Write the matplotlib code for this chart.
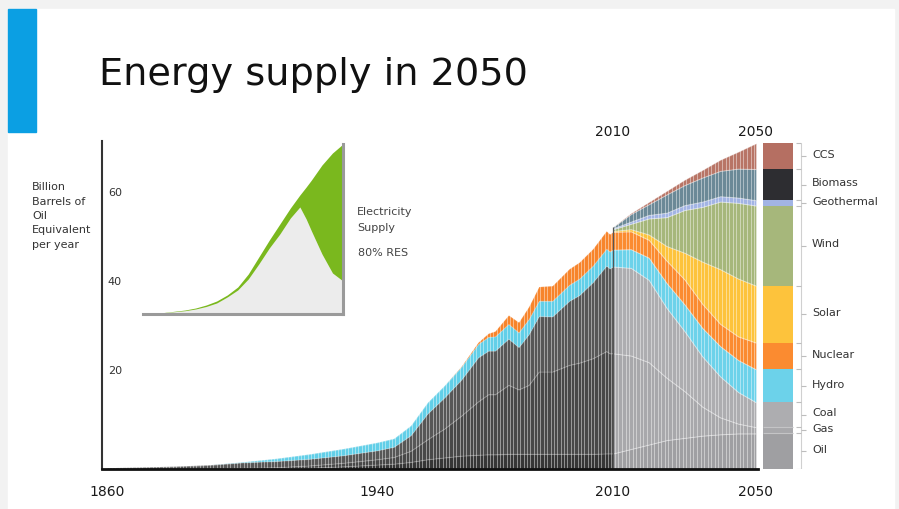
import numpy as np
import matplotlib
matplotlib.use("Agg")
import matplotlib.pyplot as plt
import matplotlib.patches as mpatches
from matplotlib.transforms import offset_copy

plt.rcParams["font.family"] = "DejaVu Sans"

#%% data (billion barrels of oil equivalent per year)
# history 1860-2010
years_hist = [1860, 1870, 1880, 1890, 1900, 1910, 1920, 1930, 1940, 1945, 1950, 1955, 1960, 1965,
              1970, 1973, 1975, 1979, 1982, 1985, 1988, 1992, 1997, 2000, 2004, 2008, 2009, 2010]
oil_hist = [0, 0, 0, 0, 0.05, 0.1, 0.3, 0.6, 1.0, 1.2, 1.6, 2.2, 2.6, 3.0,
            3.2, 3.3, 3.3, 3.4, 3.4, 3.4, 3.4, 3.4, 3.4, 3.4, 3.4, 3.5, 3.5, 3.5]
gas_hist = [0, 0, 0, 0.05, 0.2, 0.3, 0.5, 0.8, 1.2, 1.5, 2.5, 4.5, 6.5, 9.0,
            12.0, 13.5, 13.5, 15.5, 14.5, 15.5, 18.5, 18.5, 20.0, 20.5, 21.5, 23.0, 22.5, 22.5]
coal_hist = [0.3, 0.45, 0.65, 0.9, 1.25, 1.4, 1.5, 1.7, 2.0, 2.3, 3.5, 5.8, 7.0, 8.1,
             9.9, 9.8, 9.8, 10.4, 9.5, 11.4, 12.5, 12.4, 14.4, 15.2, 17.1, 19.2, 19.1, 19.5]
hydro_hist = [0, 0, 0, 0, 0.1, 0.6, 1.1, 1.5, 1.8, 1.9, 2.2, 2.5, 2.7, 2.9,
              3.0, 3.1, 3.2, 3.3, 3.3, 3.4, 3.4, 3.5, 3.6, 3.7, 3.7, 3.8, 3.8, 3.8]
nuclear_hist = [0, 0, 0, 0, 0, 0, 0, 0, 0, 0, 0, 0, 0, 0.1,
                0.4, 0.8, 1.2, 2.0, 2.3, 2.8, 3.2, 3.4, 3.6, 3.7, 3.8, 4.0, 3.9, 4.0]

# scenario 2010-2050
years_future = [2010, 2015, 2020, 2025, 2030, 2035, 2040, 2045, 2050]
oil_future = [3.5, 4.5, 5.5, 6.5, 7.0, 7.5, 7.8, 8.0, 8.0]
gas_future = [22.5, 21.0, 18.5, 14.0, 10.5, 6.5, 3.8, 2.2, 1.4]
coal_future = [19.5, 19.7, 18.5, 15.7, 13.5, 11.3, 9.2, 7.1, 5.6]
hydro_future = [3.8, 4.2, 5.0, 5.6, 6.0, 6.4, 6.8, 7.2, 7.4]
nuclear_future = [4.0, 4.0, 4.0, 5.0, 5.6, 5.4, 5.0, 5.3, 6.0]
solar_future = [0.2, 0.5, 1.2, 3.3, 6.0, 9.5, 12.3, 13.0, 12.8]
wind_future = [0.4, 1.2, 3.6, 6.5, 9.6, 12.3, 15.2, 17.0, 18.0]
geothermal_future = [0.2, 0.5, 0.8, 1.0, 1.1, 1.2, 1.2, 1.2, 1.2]
biomass_future = [0.3, 1.7, 2.4, 4.1, 4.5, 5.4, 5.7, 6.5, 7.0]
ccs_future = [0.0, 0.2, 0.5, 0.8, 1.2, 1.7, 2.5, 3.8, 5.8]

sources = ["Oil", "Gas", "Coal", "Hydro", "Nuclear", "Solar", "Wind", "Geothermal", "Biomass", "CCS"]

# electricity inset (relative units)
elec_years = [1860, 1880, 1900, 1910, 1920, 1930, 1940, 1950, 1960, 1970, 1980, 1990,
              2000, 2009, 2015, 2020, 2030, 2040, 2050]
elec_total = [0.5, 1.5, 4, 6, 9, 13, 19, 27, 40, 57, 74, 90, 106, 119, 127, 134, 149, 161, 170]
elec_conventional = [0.5, 1.3, 3.3, 5, 7.5, 11, 17, 24, 35, 50, 66, 80, 96, 107, 95, 83, 60, 41, 33]

#%% colours
col_hist = ["#363636", "#484848", "#575757", "#62cfe8", "#f7842b"]
col_future = ["#9f9fa2", "#a8a8ab", "#adadb0", "#6cd2ea", "#fb8b30", "#fdc33c",
              "#a6b77b", "#a2b4e4", "#6b8997", "#b87566"]
col_bar = col_future[:8] + ["#2d2d31", "#b56f62"]

#%% figure
W, H = 899, 510
fig = plt.figure(figsize=(W / 100, H / 100), dpi=100, facecolor="#f2f2f2")
fig.patches.append(mpatches.Rectangle((8 / W, 0), 886 / W, 500 / H, transform=fig.transFigure,
                                      color="white", zorder=-2))
fig.patches.append(mpatches.Rectangle((8 / W, 1 - 133 / H), 28 / W, 123 / H, transform=fig.transFigure,
                                      color="#0b9fe3", zorder=-1))
fig.text(99 / W, 1 - 75 / H, "Energy supply in 2050", fontsize=27.5, color="#111111", va="center")

# main axes, future part slightly stretched
k = 3.575 / 3.373
def fwd(x):
    x = np.asarray(x, dtype=float)
    return np.where(x <= 2010, x, 2010 + (x - 2010) * k)
def inv(x):
    x = np.asarray(x, dtype=float)
    return np.where(x <= 2010, x, 2010 + (x - 2010) / k)

ax = fig.add_axes([102 / W, 40 / H, 656 / W, 328 / H])
ax.set_facecolor("none")
ax.set_xscale("function", functions=(fwd, inv))
ax.set_xlim(1858.5, 2050.56)
ax.set_ylim(0, 73.7)

hist_layers = [oil_hist, gas_hist, coal_hist, hydro_hist, nuclear_hist]
fut_layers = [oil_future, gas_future, coal_future, hydro_future, nuclear_future, solar_future,
              wind_future, geothermal_future, biomass_future, ccs_future]
ax.stackplot(years_hist, *hist_layers, colors=col_hist, edgecolor=(1, 1, 1, 0.12), linewidth=1.0, zorder=2)
ax.stackplot(years_future, *fut_layers, colors=col_future, edgecolor=(1, 1, 1, 0.3), linewidth=0.8, zorder=2)

# bar texture
ax.vlines(np.arange(1860.5, 2050, 1.0), 0, 74, colors="white", lw=0.7, alpha=0.45, zorder=3)
ax.vlines(2010, 0, sum(l[0] for l in fut_layers), colors="#555555", lw=0.9, zorder=4)

for s in ["top", "right"]:
    ax.spines[s].set_visible(False)
ax.spines["bottom"].set_color("#111111")
ax.spines["bottom"].set_linewidth(2)
ax.spines["bottom"].set_zorder(5)
ax.spines["left"].set_color("#333333")
ax.spines["left"].set_linewidth(1.5)

ax.set_xticks([1860, 1940, 2010, 2050])
ax.set_xticklabels(["1860", "1940", "2010", "2050"])
ax.xaxis.set_minor_locator(matplotlib.ticker.NullLocator())
ax.tick_params(axis="x", length=0, pad=11, labelsize=10, labelcolor="#1a1a1a")
ax.set_yticks([])
for yr in [2010, 2050]:
    ax.text(yr, 1.03, str(yr), transform=ax.get_xaxis_transform(), ha="center", va="center",
            fontsize=10, color="#1a1a1a")

tr = offset_copy(ax.get_yaxis_transform(), fig=fig, x=0, y=10, units="dots")
for v in [20, 40, 60]:
    ax.text(0.009, v, str(v), transform=tr, ha="left", va="center", fontsize=8, color="#333333")

fig.text(32 / W, 1 - 216 / H, "Billion\nBarrels of\nOil\nEquivalent\nper year", fontsize=8,
         color="#333333", va="center", ha="left", linespacing=1.55)

# electricity inset
axi = fig.add_axes([143 / W, 1 - 315 / H, 200 / W, 170 / H])
axi.set_facecolor("none")
axi.fill_between(elec_years, 0, elec_conventional, color="#ececec", lw=0)
axi.fill_between(elec_years, elec_conventional, elec_total, color="#7ab81e", lw=0)
axi.set_xlim(1860, 2050)
axi.set_ylim(0, 170)
axi.set_xticks([])
axi.set_yticks([])
for s in ["top", "left"]:
    axi.spines[s].set_visible(False)
for s in ["bottom", "right"]:
    axi.spines[s].set_color("#9a9a9a")
    axi.spines[s].set_linewidth(2.2)
fig.text(357 / W, 1 - 212 / H, "Electricity", fontsize=8, color="#444444", va="center")
fig.text(357 / W, 1 - 228 / H, "Supply", fontsize=8, color="#444444", va="center")
fig.text(358 / W, 1 - 253 / H, "80% RES", fontsize=8, color="#444444", va="center")

# 2050 mix bar with labels
axb = fig.add_axes([763 / W, 40 / H, 80 / W, 328 / H])
axb.set_xlim(0, 80 / 30)
axb.set_ylim(0, 73.7)
axb.axis("off")
bottom = 0.0
mids, edges = [], [0.0]
for name, layer, c in zip(sources, fut_layers, col_bar):
    val = layer[-1]
    axb.bar(0, val, width=1, bottom=bottom, align="edge", color=c, lw=0)
    mids.append(bottom + val / 2)
    bottom += val
    edges.append(bottom)
axb.hlines(edges[1:3], 0, 1, colors="#c4c4c6", lw=0.8)
axb.vlines(1.27, 0, bottom, colors="#d0d0d0", lw=0.8)
axb.hlines(edges, 1.1, 1.27, colors="#bdbdbd", lw=0.8)
axb.hlines(mids, 1.27, 1.43, colors="#bdbdbd", lw=0.8)
for name, m in zip(sources, mids):
    axb.text(1.63, m + 0.5, name, fontsize=8, color="#333333", va="center", ha="left")

fig.savefig("out.png", dpi=100, facecolor=fig.get_facecolor())
